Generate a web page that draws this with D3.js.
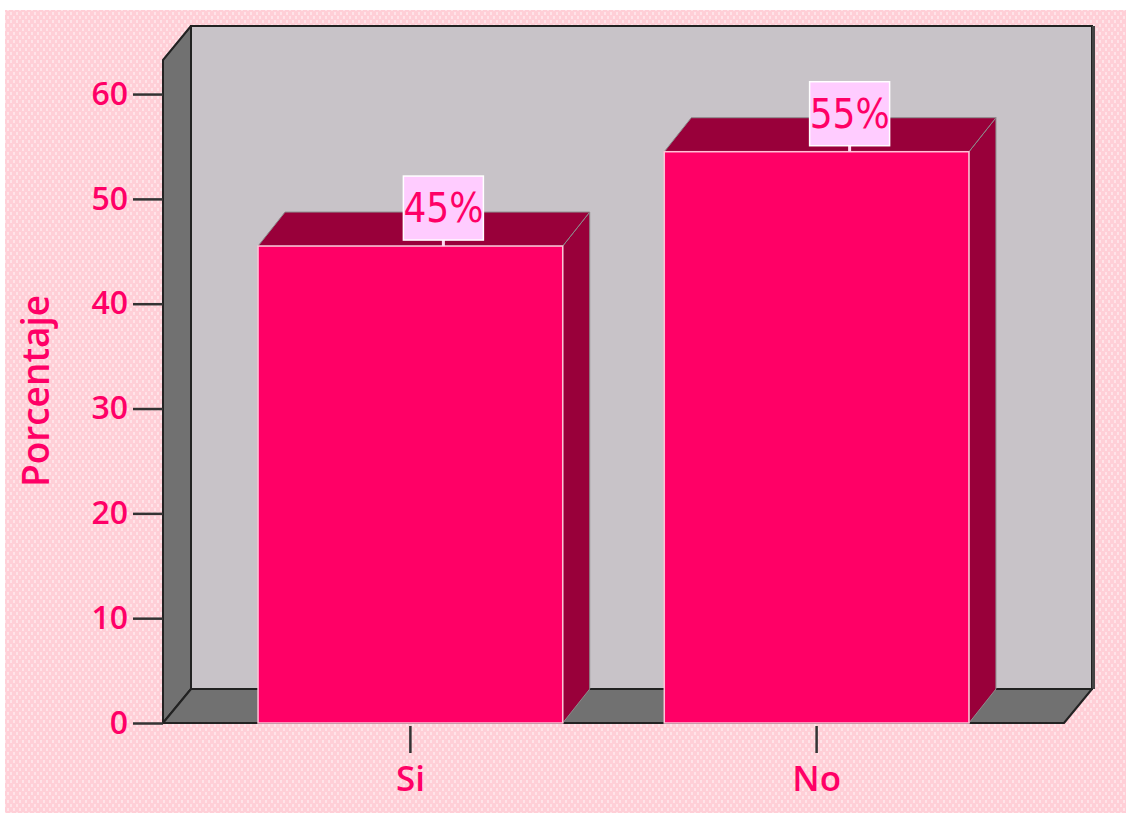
<!DOCTYPE html>
<html>
<head>
<meta charset="utf-8">
<script src="https://cdn.jsdelivr.net/npm/d3@7"></script>
<style>
    body { margin: 0; background: #fff; }
    .axis text { font-family: "Open Sans", "Noto Sans", sans-serif; font-weight: 600; fill: #ff0066; }
    .axis .domain { display: none; }
    .axis .tick line { stroke: #333; stroke-width: 2.5; }
</style>
</head>
<body>
<div id="chart-area"></div>
<script>

// data
let categories = ["Si", "No"];
let percentages = [45.5, 54.5];
let valueLabels = ["45%", "55%"];
let yTicks = [0, 10, 20, 30, 40, 50, 60];
let axisTitle = "Porcentaje";


class BarVis3D {

    constructor(_parentElement, _categories, _values, _labels) {
        this.parentElement = _parentElement;
        this.categories = _categories;
        this.values = _values;
        this.labels = _labels;

        this.initVis();
    }

    initVis() {
        let vis = this;

        vis.width = 1126;
        vis.height = 813;

        // front plane of the box
        vis.plot = { left: 163, right: 1064, bottom: 723, top: 60 };
        // depth offset of the 3d box
        vis.dx = 28;
        vis.dy = 34;

        vis.svg = d3.select("#" + vis.parentElement).append("svg")
            .attr("width", vis.width)
            .attr("height", vis.height);

        // background texture
        let defs = vis.svg.append("defs");
        let pat = defs.append("pattern")
            .attr("id", "pinkDots")
            .attr("patternUnits", "userSpaceOnUse")
            .attr("width", 6)
            .attr("height", 8);
        pat.append("rect").attr("width", 6).attr("height", 8).attr("fill", "#ffcfd7");
        pat.append("rect").attr("x", 1).attr("y", 0).attr("width", 2).attr("height", 3).attr("fill", "#ffe3e8");
        pat.append("rect").attr("x", 4).attr("y", 4).attr("width", 2).attr("height", 3).attr("fill", "#ffe3e8");

        vis.svg.append("rect")
            .attr("width", vis.width)
            .attr("height", vis.height)
            .attr("fill", "#fff");

        vis.svg.append("rect")
            .attr("x", 5)
            .attr("y", 10)
            .attr("width", vis.width - 5)
            .attr("height", vis.height - 10)
            .attr("fill", "url(#pinkDots)");

        // Scales
        vis.y = d3.scaleLinear()
            .domain([0, 63.25])
            .range([vis.plot.bottom, vis.plot.top]);

        vis.x = d3.scaleBand()
            .domain(vis.categories)
            .range([vis.plot.left, vis.plot.right])
            .paddingInner(0.25)
            .paddingOuter(0.234);

        vis.yAxis = d3.axisLeft(vis.y)
            .tickValues(yTicks)
            .tickSize(30)
            .tickPadding(5)
            .tickFormat(d3.format("d"));

        vis.xAxis = d3.axisBottom(vis.x)
            .tickSize(27)
            .tickPadding(13);

        vis.wrangleData();
    }

    wrangleData() {
        let vis = this;

        vis.displayData = vis.categories.map((c, i) => {
            return { category: c, value: vis.values[i], label: vis.labels[i] };
        });

        vis.updateVis();
    }

    updateVis() {
        let vis = this;
        let p = vis.plot, dx = vis.dx, dy = vis.dy;
        let pts = arr => arr.map(d => d.join(",")).join(" ");

        // back wall
        vis.svg.append("rect")
            .attr("x", p.left + dx)
            .attr("y", p.top - dy)
            .attr("width", p.right - p.left)
            .attr("height", p.bottom - p.top)
            .attr("fill", "#c8c3c8")
            .attr("stroke", "#222")
            .attr("stroke-width", 2);

        // shadow on right edge of back wall
        vis.svg.append("line")
            .attr("x1", p.right + dx + 1.5)
            .attr("x2", p.right + dx + 1.5)
            .attr("y1", p.top - dy)
            .attr("y2", p.bottom - dy)
            .attr("stroke", "#444")
            .attr("stroke-width", 3);

        // left wall
        vis.svg.append("polygon")
            .attr("points", pts([[p.left, p.bottom], [p.left, p.top], [p.left + dx, p.top - dy], [p.left + dx, p.bottom - dy]]))
            .attr("fill", "#717171")
            .attr("stroke", "#222")
            .attr("stroke-width", 2)
            .attr("stroke-linejoin", "round");

        // floor
        vis.svg.append("polygon")
            .attr("points", pts([[p.left, p.bottom], [p.right, p.bottom], [p.right + dx, p.bottom - dy], [p.left + dx, p.bottom - dy]]))
            .attr("fill", "#717171")
            .attr("stroke", "#222")
            .attr("stroke-width", 2)
            .attr("stroke-linejoin", "round");

        // bars
        let bdx = 27, bdy = 34;
        let bw = vis.x.bandwidth();
        let bars = vis.svg.selectAll(".bar")
            .data(vis.displayData)
            .enter()
            .append("g")
            .attr("class", "bar");

        bars.append("polygon")
            .attr("points", d => {
                let x0 = vis.x(d.category) + bw, yt = vis.y(d.value);
                return pts([[x0, yt], [x0 + bdx, yt - bdy], [x0 + bdx, p.bottom - bdy], [x0, p.bottom]]);
            })
            .attr("fill", "#99003a")
            .attr("stroke", "#8c8c8c")
            .attr("stroke-width", 1);

        bars.append("polygon")
            .attr("points", d => {
                let x0 = vis.x(d.category), yt = vis.y(d.value);
                return pts([[x0, yt], [x0 + bdx, yt - bdy], [x0 + bw + bdx, yt - bdy], [x0 + bw, yt]]);
            })
            .attr("fill", "#99003a")
            .attr("stroke", "#8c8c8c")
            .attr("stroke-width", 1);

        bars.append("rect")
            .attr("x", d => vis.x(d.category))
            .attr("y", d => vis.y(d.value))
            .attr("width", bw)
            .attr("height", d => p.bottom - vis.y(d.value))
            .attr("fill", "#ff0066")
            .attr("stroke", "#ffc2d6")
            .attr("stroke-width", 1.5);

        // value labels
        let boxW = 80, boxH = 64;
        let labels = vis.svg.selectAll(".value-label")
            .data(vis.displayData)
            .enter()
            .append("g")
            .attr("class", "value-label")
            .attr("transform", d => "translate(" + (vis.x(d.category) + bw / 2 + 33) + "," + (vis.y(d.value) - 38) + ")");

        labels.append("line")
            .attr("x1", 0).attr("x2", 0)
            .attr("y1", boxH / 2)
            .attr("y2", 38)
            .attr("stroke", "#ffd6f0")
            .attr("stroke-width", 3);

        labels.append("rect")
            .attr("x", -boxW / 2)
            .attr("y", -boxH / 2)
            .attr("width", boxW)
            .attr("height", boxH)
            .attr("fill", "#ffccff")
            .attr("stroke", "#fff")
            .attr("stroke-width", 1.5);

        labels.append("text")
            .attr("text-anchor", "middle")
            .attr("dy", "0.36em")
            .attr("font-family", "'Liberation Sans Narrow', 'DejaVu Sans Condensed', 'Noto Sans', sans-serif")
            .attr("font-stretch", "condensed")
            .attr("font-size", 40)
            .attr("fill", "#ff0066")
            .text(d => d.label);

        // axes
        vis.svg.append("g")
            .attr("class", "y-axis axis")
            .attr("transform", "translate(" + p.left + ",0)")
            .call(vis.yAxis)
            .selectAll("text")
            .attr("font-size", 32);

        vis.svg.append("g")
            .attr("class", "x-axis axis")
            .attr("transform", "translate(0," + (p.bottom + 3) + ")")
            .call(vis.xAxis)
            .selectAll("text")
            .attr("font-size", 35);

        vis.svg.selectAll(".axis .tick text").attr("fill", "#ff0066");

        // Axis title
        vis.svg.append("text")
            .attr("transform", "translate(49," + 391 + ") rotate(-90)")
            .attr("text-anchor", "middle")
            .attr("font-family", "'Open Sans', 'Noto Sans', sans-serif")
            .attr("font-weight", 600)
            .attr("font-size", 37)
            .attr("fill", "#ff0066")
            .text(axisTitle);
    }
}

new BarVis3D("chart-area", categories, percentages, valueLabels);
</script>
</body>
</html>
